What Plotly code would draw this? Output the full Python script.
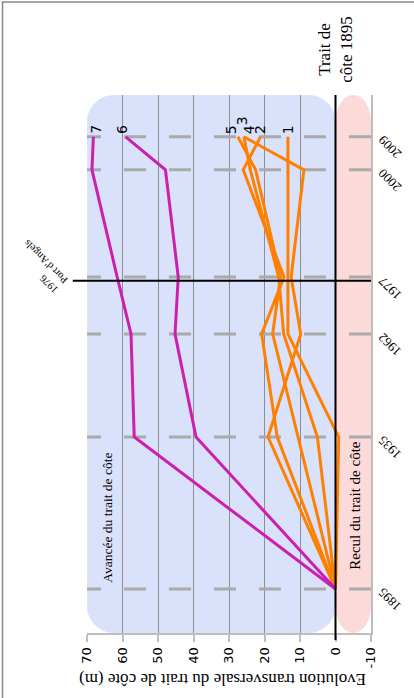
import numpy as np
import plotly.graph_objects as go

# survey dates and where they sit along the time axis
years = [1895, 1935, 1962, 1977, 2000, 2009]
time_pos = [1895, 1935, 1962.1, 1977.1, 2005.3, 2014.0]

# shoreline change (m) for each profile, one value per survey date
profile_names = ["1", "2", "3", "4", "5", "6", "7"]
p1 = [0, -0.9, 13.4, 13.4, 13.4, 13.4]
p2 = [0, 16.4, 20.8, 14.5, 26.0, 21.1]
p3 = [0, 19.0, 9.8, 12.5, 8.9, 25.8]
p4 = [0, 5.1, 14.6, 16.0, 24.0, 25.8]
p5 = [0, 10.6, 17.7, 15.5, 22.5, 27.5]
p6 = [0, 39.3, 45.2, 44.3, 47.9, 59.1]
p7 = [0, 56.7, 57.6, 61.5, 68.6, 68.2]
profiles = [p1, p2, p3, p4, p5, p6, p7]

value_ticks = [-10, 0, 10, 20, 30, 40, 50, 60, 70]
value_labels = [str(v) for v in value_ticks]
event_year = 1976
event_text = "1976<br>Port d'Angels"

ORANGE = "#ff8000"
MAGENTA = "#cc1fae"
SERIF = "Liberation Serif"
SANS = "DejaVu Sans"

x_min, x_max = -10, 70
y_min, y_max = 1883.42, 2025.0


def rounded_rect(x0, x1, y0, y1, rx, ry):
    k = 0.5523
    return (
        f"M {x0 + rx},{y0} L {x1 - rx},{y0} "
        f"C {x1 - rx + k * rx},{y0} {x1},{y0 + ry - k * ry} {x1},{y0 + ry} "
        f"L {x1},{y1 - ry} "
        f"C {x1},{y1 - ry + k * ry} {x1 - rx + k * rx},{y1} {x1 - rx},{y1} "
        f"L {x0 + rx},{y1} "
        f"C {x0 + rx - k * rx},{y1} {x0},{y1 - ry + k * ry} {x0},{y1 - ry} "
        f"L {x0},{y0 + ry} "
        f"C {x0},{y0 + ry - k * ry} {x0 + rx - k * rx},{y0} {x0 + rx},{y0} Z"
    )


fig = go.Figure()

for name, vals in zip(profile_names, profiles):
    color = MAGENTA if name in ("6", "7") else ORANGE
    fig.add_trace(go.Scatter(
        x=vals, y=time_pos, mode="lines",
        line=dict(color=color, width=3), name=name, showlegend=False,
        hoverinfo="skip",
    ))

shapes = []
# advance / retreat backgrounds
shapes.append(dict(type="path", xref="x", yref="y", layer="below",
                   path=rounded_rect(0, x_max, y_min, y_max, 7.6, 7.1),
                   fillcolor="#d9e1fb", line=dict(width=0)))
shapes.append(dict(type="path", xref="x", yref="y", layer="below",
                   path=rounded_rect(x_min, 0, y_min, y_max, 5.0, 7.1),
                   fillcolor="#fddada", line=dict(width=0)))
# dashed lines at each survey date
for p in time_pos:
    shapes.append(dict(type="line", xref="x", yref="y", layer="between",
                       x0=x_min, x1=x_max, y0=p, y1=p,
                       line=dict(color="#aaaaaa", width=3, dash="22px,23px")))
# 1895 shoreline reference
shapes.append(dict(type="line", xref="x", yref="paper", layer="above",
                   x0=0, x1=0, y0=-0.013, y1=1,
                   line=dict(color="black", width=2)))
# harbour construction
ev = float(np.interp(event_year, years, time_pos))
shapes.append(dict(type="line", xref="paper", yref="y", layer="above",
                   x0=-0.05, x1=1, y0=ev, y1=ev,
                   line=dict(color="black", width=2)))
# outer frame
shapes.append(dict(type="line", xref="paper", yref="paper",
                   x0=-0.3, x1=1.2, y0=1.173, y1=1.173,
                   line=dict(color="#888888", width=1.5)))
shapes.append(dict(type="line", xref="paper", yref="paper",
                   x0=-0.2975, x1=-0.2975, y0=-0.2, y1=1.173,
                   line=dict(color="#888888", width=1.5)))

annotations = []
# profile numbers at the last survey
label_shift = {"1": (0, 0), "2": (0, 0), "3": (-2, 9), "4": (5, 0),
               "5": (-7, 0), "6": (-3, 0), "7": (3, 0)}
for name, vals in zip(profile_names, profiles):
    dx, dy = label_shift[name]
    annotations.append(dict(x=vals[-1], y=time_pos[-1], xref="x", yref="y",
                            text=name, showarrow=False, textangle=-90,
                            xanchor="center", yanchor="bottom",
                            xshift=dx, yshift=1 + dy,
                            font=dict(family=SANS, size=14, color="black")))
# survey date labels
for yr, p in zip(years, time_pos):
    annotations.append(dict(x=1, y=p, xref="paper", yref="y", text=str(yr),
                            showarrow=False, textangle=-135, xanchor="left",
                            yanchor="top", xshift=1, yshift=7,
                            font=dict(family=SERIF, size=13, color="black")))
annotations += [
    dict(x=0.479, y=-0.086, xref="paper", yref="paper", showarrow=False,
         text="Evolution transversale du trait de côte (m)", textangle=180,
         xanchor="center", yanchor="middle",
         font=dict(family=SERIF, size=17, color="black")),
    dict(x=0, y=1.085, xref="x", yref="paper", showarrow=False,
         text="Trait de<br>côte 1895", textangle=-90,
         xanchor="center", yanchor="middle",
         font=dict(family=SERIF, size=17, color="black")),
    dict(x=64.3, y=1913.8, xref="x", yref="y", showarrow=False,
         text="Avancée du trait de côte", textangle=-90,
         xanchor="center", yanchor="middle",
         font=dict(family=SERIF, size=13.5, color="black")),
    dict(x=-5.6, y=1917.0, xref="x", yref="y", showarrow=False,
         text="Recul du trait de côte", textangle=-90,
         xanchor="center", yanchor="middle",
         font=dict(family=SERIF, size=15, color="black")),
    dict(x=-0.05, y=ev, xref="paper", yref="y", showarrow=False,
         text=event_text, textangle=-135, xanchor="right", yanchor="middle",
         align="left", yshift=15,
         font=dict(family=SERIF, size=10.5, color="black")),
]

fig.update_layout(
    width=414, height=698,
    margin=dict(l=87, r=43, t=95, b=65),
    paper_bgcolor="white", plot_bgcolor="white",
    shapes=shapes, annotations=annotations,
    xaxis=dict(range=[x_max, x_min], tickvals=value_ticks,
               ticktext=value_labels, tickangle=-90, automargin=False,
               showgrid=True, gridcolor="#8e8e8e", gridwidth=1,
               zeroline=False, showline=True, linecolor="#bdbdbd", linewidth=2,
               ticks="outside", ticklen=7, tickcolor="#bdbdbd", tickwidth=2,
               tickfont=dict(family=SANS, size=13, color="black")),
    yaxis=dict(range=[y_min, y_max], showgrid=False, showticklabels=False,
               zeroline=False, showline=True, side="right", automargin=False,
               linecolor="#bdbdbd", linewidth=2),
)

fig.write_html("out.html")
